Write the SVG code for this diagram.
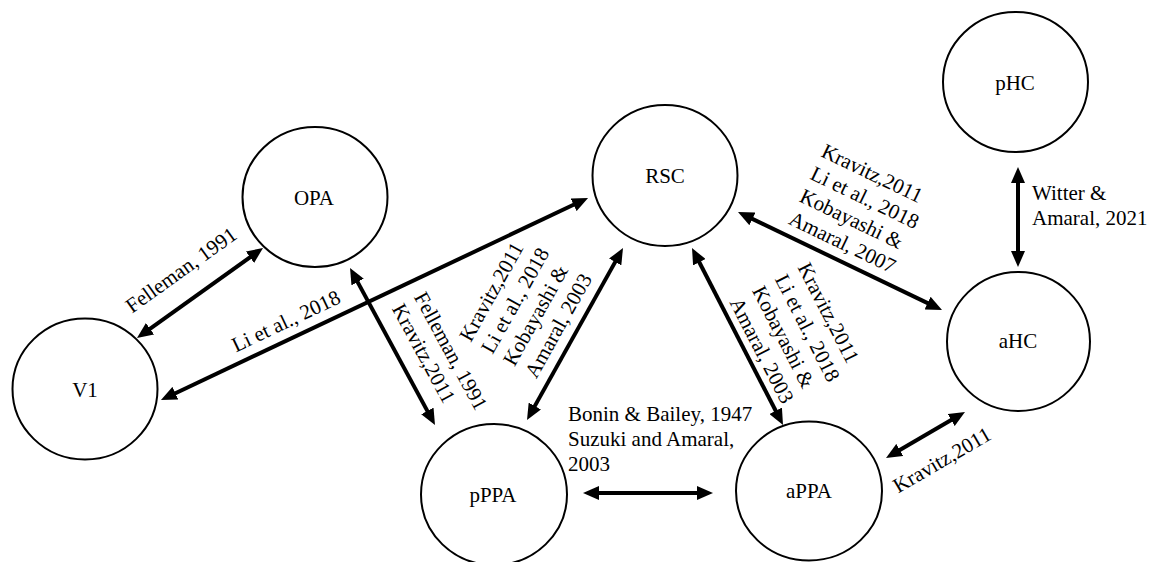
<svg xmlns="http://www.w3.org/2000/svg" width="1150" height="562" viewBox="0 0 1150 562">
<style>
.node ellipse{fill:#fff;stroke:#000;stroke-width:2}
text{font-family:"Liberation Serif","Times New Roman",serif;font-size:21px;fill:#000}
.nl{text-anchor:middle}
.c{text-anchor:middle}
.conn line{stroke:#000;stroke-width:4;marker-start:url(#ah);marker-end:url(#ah)}
</style>
<defs>
<marker id="ah" viewBox="0 0 16 14" refX="7" refY="7" markerWidth="16" markerHeight="14" markerUnits="userSpaceOnUse" orient="auto-start-reverse">
<path d="M0,0 L16,7 L0,14 z" fill="#000"/>
</marker>
</defs>
<rect width="1150" height="562" fill="#fff"/>
<g id="connectors" class="conn">
<line x1="144.3" y1="332.8" x2="255.7" y2="253.2"/>
<line x1="169.1" y1="396.2" x2="579.9" y2="201.8"/>
<line x1="354.3" y1="275.9" x2="430.7" y2="417.1"/>
<line x1="531.4" y1="412.1" x2="618.6" y2="255.9"/>
<line x1="696.1" y1="256.0" x2="778.9" y2="417.0"/>
<line x1="746.1" y1="215.9" x2="933.9" y2="306.1"/>
<line x1="1018" y1="176" x2="1018" y2="258"/>
<line x1="893.8" y1="453.5" x2="957.2" y2="416.5"/>
<line x1="592" y1="493" x2="704" y2="493"/>
</g>
<g id="labels">
<text class="c" transform="translate(181,270) rotate(-35.5)" y="7">Felleman, 1991</text>
<text class="c" transform="translate(286,321) rotate(-25.3)" y="7">Li et al., 2018</text>
<g transform="translate(413.6,296.7) rotate(61.6)">
<text x="0" y="0">Felleman, 1991</text>
<text x="0" y="25">Kravitz,2011</text>
</g>
<g transform="translate(470.8,342.9) rotate(-60.8)">
<text x="0" y="0">Kravitz,2011</text>
<text x="0" y="25">Li et al., 2018</text>
<text x="0" y="50">Kobayashi &amp;</text>
<text x="0" y="75">Amaral, 2003</text>
</g>
<g transform="translate(797.2,267.3) rotate(62.8)">
<text x="0" y="0">Kravitz,2011</text>
<text x="0" y="25.5">Li et al., 2018</text>
<text x="0" y="51">Kobayashi &amp;</text>
<text x="0" y="76.5">Amaral, 2003</text>
</g>
<g transform="translate(819.9,155.9) rotate(25.7)">
<text x="0" y="0">Kravitz,2011</text>
<text x="0" y="25">Li et al., 2018</text>
<text x="0" y="50">Kobayashi &amp;</text>
<text x="0" y="75">Amaral, 2007</text>
</g>
<text class="c" transform="translate(942,460) rotate(-30.2)" y="7">Kravitz,2011</text>
<text x="1032" y="200">Witter &amp;</text>
<text x="1032" y="225">Amaral, 2021</text>
<text x="568" y="421">Bonin &amp; Bailey, 1947</text>
<text x="568" y="446">Suzuki and Amaral,</text>
<text x="568" y="471">2003</text>
</g>
<g id="node-V1" class="node"><ellipse cx="85" cy="389" rx="72.5" ry="70.5"/><text class="nl" x="85" y="397">V1</text></g>
<g id="node-OPA" class="node"><ellipse cx="315" cy="197" rx="72.5" ry="70"/><text class="nl" x="314" y="204.5">OPA</text></g>
<g id="node-RSC" class="node"><ellipse cx="665" cy="175.5" rx="72.5" ry="70.5"/><text class="nl" x="665" y="183">RSC</text></g>
<g id="node-pHC" class="node"><ellipse cx="1015.5" cy="82" rx="72.5" ry="70"/><text class="nl" x="1015" y="90">pHC</text></g>
<g id="node-aHC" class="node"><ellipse cx="1018.5" cy="341.5" rx="71.5" ry="69.5"/><text class="nl" x="1018" y="348">aHC</text></g>
<g id="node-pPPA" class="node"><ellipse cx="494" cy="494.5" rx="73" ry="70.5"/><text class="nl" x="493" y="502">pPPA</text></g>
<g id="node-aPPA" class="node"><ellipse cx="809" cy="491" rx="73" ry="69.5"/><text class="nl" x="809" y="498">aPPA</text></g>
</svg>
